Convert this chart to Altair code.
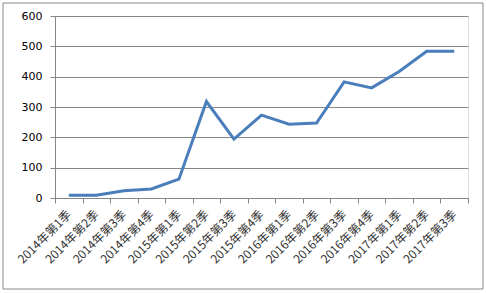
import altair as alt
import pandas as pd

quarters = ["2014年第1季", "2014年第2季", "2014年第3季", "2014年第4季",
            "2015年第1季", "2015年第2季", "2015年第3季", "2015年第4季",
            "2016年第1季", "2016年第2季", "2016年第3季", "2016年第4季",
            "2017年第1季", "2017年第2季", "2017年第3季"]
values = [9, 9, 24, 30, 62, 318, 194, 273, 243, 247, 383, 363, 417, 484, 484]

df = pd.DataFrame({"q": quarters, "v": values})

line = alt.Chart(df).mark_line(color="#4a7ebb", strokeWidth=3).encode(
    x=alt.X("q:N", sort=quarters, title=None,
            scale=alt.Scale(paddingInner=0, paddingOuter=0),
            axis=alt.Axis(labelAngle=-45, labelAlign="right", labelBaseline="middle",
                          tickBand="extent", tickSize=5, tickColor="#868686",
                          domainColor="#868686", labelFont="Noto Sans CJK SC",
                          labelFontSize=12, labelColor="#333333", labelPadding=9,
                          grid=False)),
    y=alt.Y("v:Q", title=None,
            scale=alt.Scale(domain=[0, 600], nice=False),
            axis=alt.Axis(values=[0, 100, 200, 300, 400, 500, 600], tickSize=5,
                          tickColor="#868686", domainColor="#868686",
                          gridColor="#868686", gridWidth=1, labelFont="DejaVu Sans",
                          labelFontSize=11, labelColor="#000000", labelPadding=8)),
)

border = alt.Chart(pd.DataFrame({"a": [0]})).mark_rect(
    fill=None, stroke="#888888", strokeWidth=1, clip=False
).encode(
    x=alt.value(-52), x2=alt.value(428), y=alt.value(-13), y2=alt.value(273)
)

chart = alt.layer(line, border).properties(
    width=413, height=182,
    padding={"left": 55, "top": 16, "right": 18, "bottom": 95},
    autosize=alt.AutoSizeParams(type="none"),
).configure_view(stroke=None).configure(background="white")

chart.save("out.html", embed_options={"renderer": "svg", "actions": False})
